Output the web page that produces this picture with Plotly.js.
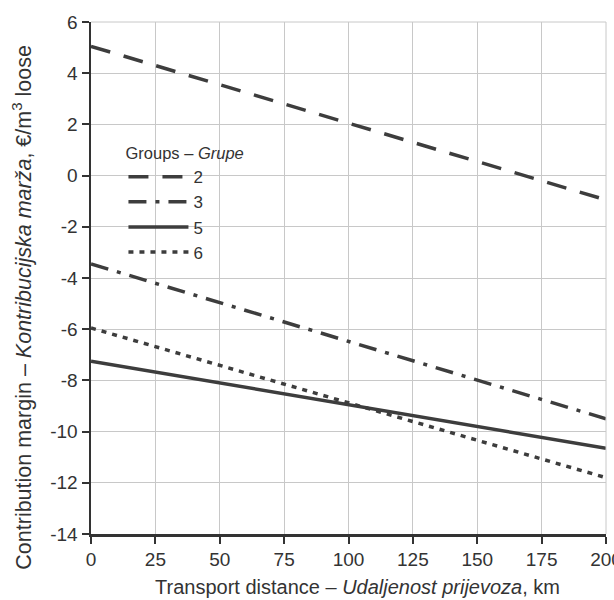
<!DOCTYPE html>
<html>
<head>
<meta charset="utf-8">
<script src="https://cdn.plot.ly/plotly-3.0.1.min.js"></script>
<style>html,body{margin:0;padding:0;background:#fff;}#chart{width:614px;height:600px;}</style>
</head>
<body>
<div id="chart"></div>
<script>
const distance = [0, 200];
const group2 = [5.05, -0.95];
const group3 = [-3.45, -9.5];
const group5 = [-7.25, -10.65];
const group6 = [-5.95, -11.8];
const groupNames = ['2', '3', '5', '6'];
const xTicks = [0, 25, 50, 75, 100, 125, 150, 175, 200];
const yTicks = [-14, -12, -10, -8, -6, -4, -2, 0, 2, 4, 6];
const yTitle = 'Contribution margin – <i>Kontribucijska marža</i>, €/m<sup>3</sup> loose';
const xTitle = 'Transport distance – <i>Udaljenost prijevoza</i>, km';

const FONT = '"Liberation Sans Narrow", "Arial Narrow", "Liberation Sans", Arial, sans-serif';
const LC = '#3d3d3d';
const TC = '#333';
const series = [group2, group3, group5, group6];
const dashes = ['20px,14px', '18px,9px,4px,9px', 'solid', '5px,6px'];

const traces = series.map((s, i) => ({
  x: distance, y: s, type: 'scatter', mode: 'lines', name: groupNames[i],
  line: {color: LC, width: 3.5, dash: dashes[i]}
}));

const layout = {
  width: 614, height: 600,
  margin: {l: 91, r: 8, t: 22, b: 66},
  paper_bgcolor: '#fff', plot_bgcolor: '#fff',
  font: {family: FONT, size: 17, color: TC},
  showlegend: true,
  legend: {
    x: 0.063, y: 0.774, xanchor: 'left', yanchor: 'top',
    bgcolor: 'rgba(255,255,255,0)',
    title: {text: 'Groups – <i>Grupe</i>', font: {family: FONT, size: 16.5, color: TC}},
    font: {family: FONT, size: 17, color: TC},
    itemwidth: 60, tracegroupgap: 0
  },
  xaxis: {
    range: [0, 200], tickvals: xTicks, ticktext: xTicks.map(String),
    showgrid: true, gridcolor: '#c8c8c8', gridwidth: 1,
    showline: true, linecolor: TC, linewidth: 2.5,
    ticks: 'outside', ticklen: 7, tickwidth: 2, tickcolor: TC,
    ticklabeloverflow: 'allow',
    zeroline: false, tickfont: {family: FONT, size: 19, color: TC}
  },
  yaxis: {
    range: [-14, 6], tickvals: yTicks, ticktext: yTicks.map(String),
    showgrid: true, gridcolor: '#c8c8c8', gridwidth: 1,
    showline: true, linecolor: TC, linewidth: 2.5,
    ticks: 'outside', ticklen: 7, tickwidth: 2, tickcolor: TC,
    ticklabeloverflow: 'allow',
    zeroline: false, tickfont: {family: FONT, size: 19, color: TC}
  },
  annotations: [{
    text: yTitle, textangle: -90, xref: 'paper', yref: 'paper',
    x: -0.133, y: 0.443, xanchor: 'center', yanchor: 'middle', showarrow: false,
    font: {family: FONT, size: 21.5, color: TC}
  }, {
    text: xTitle, xref: 'paper', yref: 'paper',
    x: 0.5175, y: -0.103, xanchor: 'center', yanchor: 'middle', showarrow: false,
    font: {family: FONT, size: 20, color: TC}
  }],
  shapes: [
    {type: 'line', xref: 'paper', yref: 'paper', x0: 0, x1: 1, y0: 1, y1: 1, line: {color: '#c8c8c8', width: 1}},
    {type: 'line', xref: 'paper', yref: 'paper', x0: 1, x1: 1, y0: 0, y1: 1, line: {color: '#c8c8c8', width: 1}}
  ]
};

Plotly.newPlot('chart', traces, layout, {displayModeBar: false, staticPlot: true}).then(gd => {
  // lengthen legend sample lines to match the reference's longer keys
  gd.querySelectorAll('.legend .traces path.js-line').forEach(p => p.setAttribute('d', 'M5,0h60'));
});
</script>
</body>
</html>
